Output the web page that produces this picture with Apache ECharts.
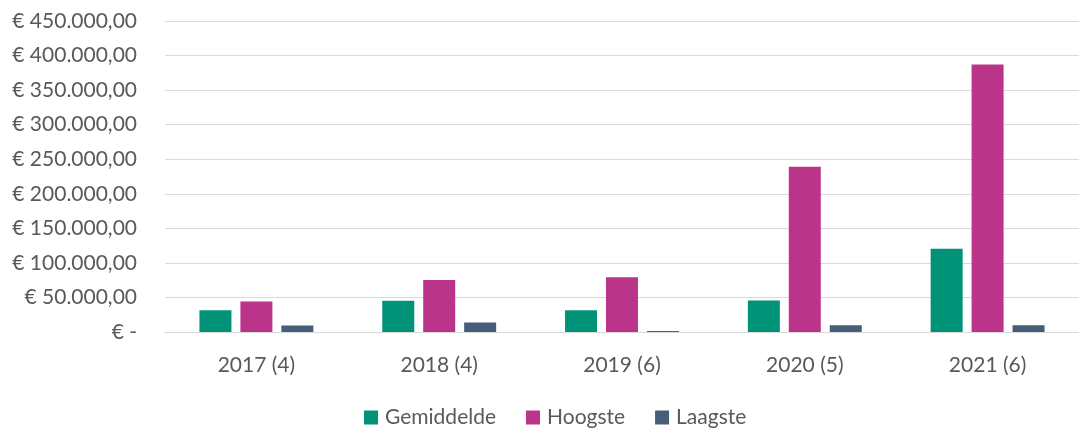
<!DOCTYPE html>
<html>
<head>
<meta charset="utf-8">
<script src="https://cdn.jsdelivr.net/npm/echarts@6/dist/echarts.min.js"></script>
<style>
    html, body { margin: 0; padding: 0; background: #fff; }
    #chart { width: 1079px; height: 431px; }
</style>
</head>
<body>
<div id="chart"></div>
<script>
    // jaren (aantal)
    var categories = ['2017 (4)', '2018 (4)', '2019 (6)', '2020 (5)', '2021 (6)'];
    var gemiddelde = [31300, 45300, 31300, 45600, 120300];
    var hoogste = [44300, 75100, 79400, 239000, 387000];
    var laagste = [9300, 13600, 1500, 9700, 9700];

    function euro(v) {
        if (v === 0) return '€ -';
        var s = String(Math.round(v)).replace(/\B(?=(\d{3})+(?!\d))/g, '.');
        return '€ ' + s + ',00';
    }

    var myChart = echarts.init(document.getElementById('chart'));
    var font = 'Lato';
    myChart.setOption({
        animation: false,
        grid: { left: 165, right: 0, top: 21, bottom: 99 },
        legend: {
            left: 364,
            bottom: 3,
            padding: 0,
            itemWidth: 14,
            itemHeight: 14,
            itemGap: 30,
            icon: 'rect',
            textStyle: { fontFamily: font, fontSize: 21, color: '#595959', padding: [0, 0, 0, 2] },
            data: ['Gemiddelde', 'Hoogste', 'Laagste']
        },
        xAxis: {
            type: 'category',
            data: categories,
            axisLine: { lineStyle: { color: '#d9d9d9', width: 1 } },
            axisTick: { show: false },
            axisLabel: { fontFamily: font, fontSize: 21, color: '#595959', margin: 23 }
        },
        yAxis: {
            type: 'value',
            min: 0,
            max: 450000,
            interval: 50000,
            axisLine: { show: false },
            axisTick: { show: false },
            splitLine: { lineStyle: { color: '#d9d9d9', width: 1 } },
            axisLabel: {
                fontFamily: font, fontSize: 21, color: '#595959', margin: 28,
                formatter: euro
            }
        },
        series: [
            { name: 'Gemiddelde', type: 'bar', data: gemiddelde, barWidth: 32, barGap: '28%',
              itemStyle: { color: '#009378' } },
            { name: 'Hoogste', type: 'bar', data: hoogste, barWidth: 32,
              itemStyle: { color: '#BA3589' } },
            { name: 'Laagste', type: 'bar', data: laagste, barWidth: 32,
              itemStyle: { color: '#465E79' } }
        ]
    });
</script>
</body>
</html>
